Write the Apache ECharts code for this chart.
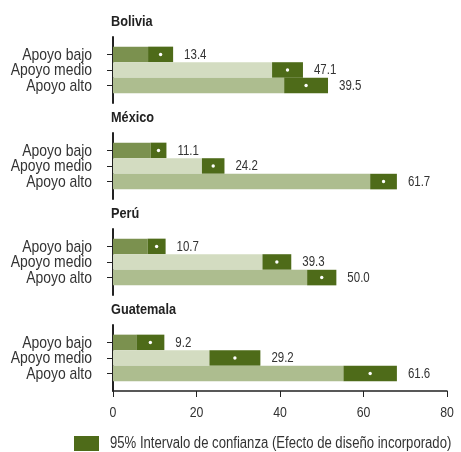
<!DOCTYPE html>
<html>
<head>
<meta charset="utf-8">
<script src="https://cdn.jsdelivr.net/npm/echarts@6/dist/echarts.min.js"></script>
<style>html,body{margin:0;padding:0;background:#fff}#c{width:461px;height:452px}</style>
</head>
<body>
<div id="c"></div>
<script>
// ---- data ----
const categories = ['Apoyo bajo', 'Apoyo medio', 'Apoyo alto'];
const countries = ['Bolivia', 'México', 'Perú', 'Guatemala'];
// shown values
const shownBolivia = [13.4, 47.1, 39.5];
const shownMexico = [11.1, 24.2, 61.7];
const shownPeru = [10.7, 39.3, 50.0];
const shownGuatemala = [9.2, 29.2, 61.6];
// 95% CI lower / upper bounds
const ciLowBolivia = [8.4, 38.1, 41.0];
const ciHighBolivia = [14.4, 45.5, 51.5];
const ciLowMexico = [9.0, 21.3, 61.6];
const ciHighMexico = [12.8, 26.7, 68.0];
const ciLowPeru = [8.3, 35.8, 46.5];
const ciHighPeru = [12.6, 42.7, 53.5];
const ciLowGuatemala = [5.6, 23.1, 55.2];
const ciHighGuatemala = [12.3, 35.3, 68.0];
const xTicks = [0, 20, 40, 60, 80];
const legendName = '95% Intervalo de confianza (Efecto de diseño incorporado)';

const shown = [shownBolivia, shownMexico, shownPeru, shownGuatemala];
const ciLow = [ciLowBolivia, ciLowMexico, ciLowPeru, ciLowGuatemala];
const ciHigh = [ciHighBolivia, ciHighMexico, ciHighPeru, ciHighGuatemala];

// ---- styles ----
const FONT = "'Liberation Sans', Arial, sans-serif";
const NARROW = 0.82; // horizontal squeeze to imitate a narrow face
const catColors = ['#7b914f', '#d3dcc1', '#adbd8f'];
const ciColor = '#4e6b19';
const axisColor = '#222';
const textColor = '#333';
const gridTops = [37, 133, 229, 325];
const gridH = 66;

const chart = echarts.init(document.getElementById('c'), null, {renderer: 'canvas'});

function narrowText(x, y, text, font, align, fill) {
  return {type: 'text', x: x, y: y, scaleX: NARROW, scaleY: 1, originX: 0, originY: 0,
    style: {text: text, font: font, fill: fill || textColor, textAlign: align, textVerticalAlign: 'middle'}};
}

const grids = [], xAxes = [], yAxes = [], series = [], graphics = [];
countries.forEach((name, i) => {
  const last = i === countries.length - 1;
  grids.push({left: 113, width: 334, top: gridTops[i], height: gridH, containLabel: false, outerBoundsMode: 'none'});
  xAxes.push({
    type: 'value', gridIndex: i, min: 0, max: 80, interval: 20,
    show: last,
    axisLine: {show: true, onZero: false, lineStyle: {color: axisColor, width: 1.5}},
    axisTick: {show: true, length: 6, lineStyle: {color: axisColor, width: 1}},
    axisLabel: {show: false},
    splitLine: {show: false}
  });
  yAxes.push({
    type: 'value', gridIndex: i, min: -1.12, max: 3.12, inverse: true,
    axisLine: {show: true, onZero: false, lineStyle: {color: axisColor, width: 2}},
    axisTick: {show: true, length: 6, customValues: [0, 1, 2], lineStyle: {color: axisColor, width: 1}},
    axisLabel: {show: false},
    splitLine: {show: false}
  });
  const data = categories.map((c, k) => [k, ciLow[i][k], ciHigh[i][k], shown[i][k]]);
  series.push({
    type: 'custom', xAxisIndex: i, yAxisIndex: i, name: name,
    encode: {x: [1, 2], y: 0},
    data: data,
    clip: false,
    renderItem: function (params, api) {
      const k = api.value(0), lo = api.value(1), hi = api.value(2), val = api.value(3);
      const p0 = api.coord([0, k]);
      const pLo = api.coord([lo, k]);
      const pHi = api.coord([hi, k]);
      const h = api.size([0, 1])[1];
      const top = p0[1] - h / 2;
      const mid = api.coord([(lo + hi) / 2, k]);
      return {
        type: 'group',
        children: [
          {type: 'rect', shape: {x: p0[0], y: top, width: pLo[0] - p0[0], height: h},
           style: {fill: catColors[k]}},
          {type: 'rect', shape: {x: pLo[0], y: top, width: pHi[0] - pLo[0], height: h},
           style: {fill: ciColor}},
          {type: 'circle', shape: {cx: mid[0], cy: mid[1], r: 1.7}, style: {fill: '#fff'}},
          narrowText(pHi[0] + 11, p0[1] + 0.5, val.toFixed(1), '14px ' + FONT, 'left'),
          narrowText(p0[0] - 21, p0[1] + 0.5, categories[k], '17px ' + FONT, 'right')
        ]
      };
    }
  });
  graphics.push(narrowText(111, gridTops[i] - 15.5, name, 'bold 15.5px ' + FONT, 'left', '#222'));
});

// x tick labels on the bottom panel
series.push({
  type: 'custom', xAxisIndex: 3, yAxisIndex: 3, name: 'ticks',
  data: xTicks.map(v => [v]),
  encode: {x: 0},
  clip: false,
  renderItem: function (params, api) {
    const v = api.value(0);
    const p = api.coord([v, 3.12]);
    return narrowText(p[0], p[1] + 21.5, String(v), '15px ' + FONT, 'center');
  }
});

// legend
graphics.push({type: 'rect', shape: {x: 74, y: 436, width: 25, height: 15}, style: {fill: ciColor}});
graphics.push(narrowText(110, 444, legendName, '16px ' + FONT, 'left'));

chart.setOption({
  animation: false,
  backgroundColor: '#fff',
  grid: grids,
  xAxis: xAxes,
  yAxis: yAxes,
  series: series,
  graphic: graphics
});
</script>
</body>
</html>
